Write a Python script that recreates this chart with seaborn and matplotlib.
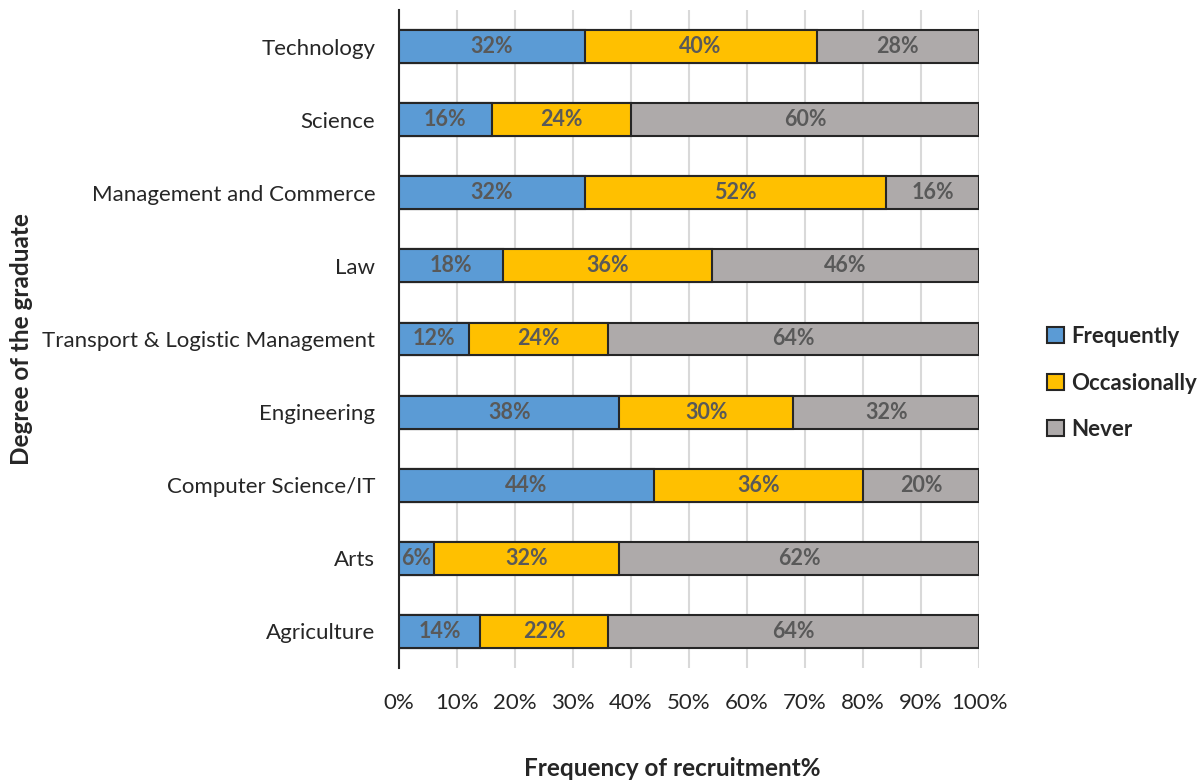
import matplotlib
matplotlib.use("Agg")
import matplotlib.pyplot as plt
import seaborn as sns
import pandas as pd
from matplotlib.patches import Patch

categories = [
    "Technology", "Science", "Management and Commerce", "Law",
    "Transport & Logistic Management", "Engineering",
    "Computer Science/IT", "Arts", "Agriculture",
]
frequently = [32, 16, 32, 18, 12, 38, 44, 6, 14]
occasionally = [40, 24, 52, 36, 24, 30, 36, 32, 22]
never = [28, 60, 16, 46, 64, 32, 20, 62, 64]
series_names = ["Frequently", "Occasionally", "Never"]
x_ticks = [0, 10, 20, 30, 40, 50, 60, 70, 80, 90, 100]

colors = ["#5B9BD5", "#FFC000", "#AEAAAA"]
edge = "#262626"

sns.set_theme(style="white")
plt.rcParams["font.family"] = ["Lato", "DejaVu Sans"]

df = pd.DataFrame({"cat": categories, "f": frequently, "o": occasionally, "n": never})
df["c1"] = df["f"]
df["c2"] = df["f"] + df["o"]
df["c3"] = df["c2"] + df["n"]

fig = plt.figure(figsize=(12, 7.8), dpi=100)
ax = fig.add_axes([399 / 1200, 1 - 668 / 780, 580 / 1200, 658 / 780])

# Stacked bars: draw cumulative totals from the outermost layer inward
for col, color in zip(["c3", "c2", "c1"], colors[::-1]):
    sns.barplot(data=df, x=col, y="cat", orient="h", color=color, width=0.45,
                edgecolor=edge, linewidth=1.5, saturation=1, ax=ax, zorder=3)

# Segment value labels
for i, row in df.iterrows():
    starts = [0, row["c1"], row["c2"]]
    for v, s in zip([row["f"], row["o"], row["n"]], starts):
        ax.text(s + v / 2, i, f"{v}%", ha="center", va="center",
                fontsize=15.5, fontweight="bold", color="#595959", zorder=4)

ax.set_xlim(0, 100)
ax.set_ylim(8.5, -0.5)
ax.set_xticks(x_ticks)
ax.set_xticklabels([f"{t}%" for t in x_ticks])
ax.xaxis.grid(True, color="#D9D9D9", linewidth=1.5, zorder=0)
ax.yaxis.grid(False)
ax.set_axisbelow(True)
ax.tick_params(axis="x", length=0, pad=18, labelsize=16, labelcolor="#262626")
ax.tick_params(axis="y", length=0, pad=17, labelsize=16, labelcolor="#262626")
for s in ["top", "right", "bottom"]:
    ax.spines[s].set_visible(False)
ax.spines["left"].set_color(edge)
ax.spines["left"].set_linewidth(1.5)
ax.set_xlabel("")
ax.set_ylabel("")

fig.text(672 / 1200, 1 - 768 / 780, "Frequency of recruitment%", ha="center", va="center",
         fontsize=17.5, fontweight="bold", color="#262626")
fig.text(22 / 1200, 1 - 339 / 780, "Degree of the graduate", ha="center", va="center",
         rotation=90, fontsize=17.5, fontweight="bold", color="#262626")

handles = [Patch(facecolor=c, edgecolor=edge, linewidth=1.5, label=n)
           for c, n in zip(colors, series_names)]
leg = fig.legend(handles=handles, loc="center left", bbox_to_anchor=(1027 / 1200, 1 - 383 / 780),
                 frameon=False, handlelength=0.75, handleheight=0.75, handletextpad=0.35,
                 labelspacing=1.15, prop={"size": 16, "weight": "bold"})
for t in leg.get_texts():
    t.set_color("#262626")

fig.savefig("out.png", dpi=100)
